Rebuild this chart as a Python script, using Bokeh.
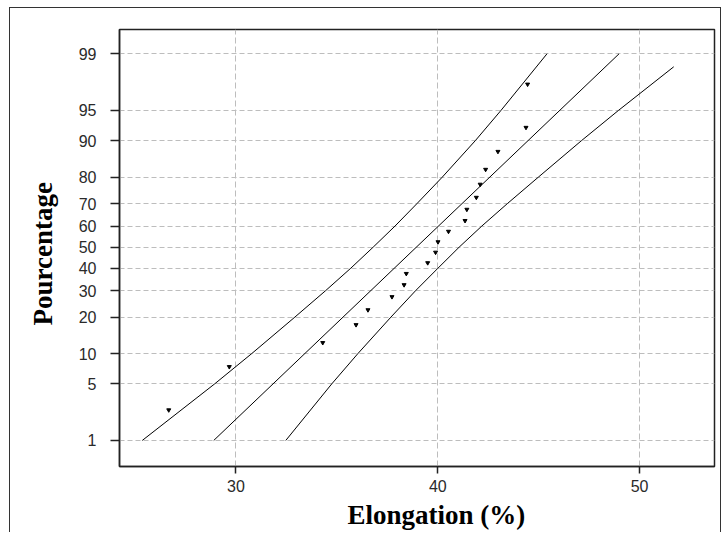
from statistics import NormalDist

from bokeh.plotting import figure
from bokeh.models import FixedTicker, Title
from bokeh.embed import file_html
from bokeh.resources import INLINE

# ---- data ----
elongation = [26.67, 29.67, 34.30, 35.95, 36.54, 37.73, 38.33, 38.44, 39.50, 39.89,
              40.01, 40.53, 41.35, 41.44, 41.91, 42.10, 42.37, 42.98, 44.37, 44.45]
percent = [2.5, 7.5, 12.5, 17.5, 22.5, 27.5, 32.5, 37.5, 42.5, 47.5,
           52.5, 57.5, 62.5, 67.5, 72.5, 77.5, 82.5, 87.5, 92.5, 97.5]

fit_pct = [1, 99]
fit_x = [28.90, 48.98]

lower_band_pct = [1, 5, 10, 20, 30, 40, 50, 60, 70, 80, 90, 95, 99]
lower_band_x = [25.36, 28.95, 30.78, 32.92, 34.44, 35.69, 36.80, 37.88, 38.97, 40.22, 41.86, 43.13, 45.41]

upper_band_pct = [1, 5, 10, 20, 30, 40, 50, 60, 70, 80, 90, 95, 98.5]
upper_band_x = [32.47, 34.75, 36.04, 37.68, 38.90, 40.01, 41.06, 42.18, 43.45, 44.98, 47.12, 48.95, 51.69]

tick_pct = [1, 5, 10, 20, 30, 40, 50, 60, 70, 80, 90, 95, 99]
x_ticks = [30, 40, 50]

x_title = "Elongation (%)"
y_title = "Pourcentage"

# ---- probability (normal) scale transform ----
nd = NormalDist()


def probit(values):
    return [nd.inv_cdf(v / 100.0) for v in values]


tick_z = probit(tick_pct)

p = figure(frame_width=595, frame_height=437,
           min_border_left=109, min_border_top=21, min_border_right=6, min_border_bottom=66,
           x_range=(24.23, 53.71), y_range=(-2.640, 2.619),
           output_backend="svg", toolbar_location=None,
           background_fill_color="white", border_fill_color="white")

# outer picture border (left, top, right) around the whole figure
p.styles = {"border-left": "1px solid #333333", "border-top": "1px solid #333333",
            "border-right": "1px solid #333333", "margin-left": "9px", "margin-top": "7px"}

# grid
p.xgrid.grid_line_color = "#bdbdbd"
p.ygrid.grid_line_color = "#bdbdbd"
p.xgrid.grid_line_dash = "6 3"
p.ygrid.grid_line_dash = "5 3"
p.grid.grid_line_width = 1

# axes
p.xaxis.ticker = FixedTicker(ticks=x_ticks)
p.yaxis.ticker = FixedTicker(ticks=tick_z)
p.yaxis.major_label_overrides = {z: str(pc) for z, pc in zip(tick_z, tick_pct)}
p.axis.minor_tick_line_color = None
p.axis.major_tick_in = 0
p.xaxis.major_tick_out = 7
p.yaxis.major_tick_out = 9
p.axis.major_tick_line_color = "#222222"
p.axis.major_tick_line_width = 1.5
p.axis.axis_line_color = "#222222"
p.axis.axis_line_width = 1.5
p.axis.major_label_text_font = "Liberation Sans"
p.axis.major_label_text_font_size = "16px"
p.axis.major_label_text_color = "#2a2a2a"
p.xaxis.major_label_standoff = 6
p.yaxis.major_label_standoff = 14

p.outline_line_color = "#222222"
p.outline_line_width = 1.5

# axis titles (placed as titles to match the reference's off-centre positions)
p.add_layout(Title(text=x_title, align="left", offset=228, standoff=6,
                   text_font="Liberation Serif", text_font_style="bold",
                   text_font_size="27px", text_color="black"), "below")
p.add_layout(Title(text=y_title, align="left", offset=141, standoff=32,
                   vertical_align="top",
                   text_font="Liberation Serif", text_font_style="bold",
                   text_font_size="27px", text_color="black"), "left")

# lines
p.line(lower_band_x, probit(lower_band_pct), line_color="black", line_width=1)
p.line(fit_x, probit(fit_pct), line_color="black", line_width=1)
p.line(upper_band_x, probit(upper_band_pct), line_color="black", line_width=1)

# points
p.scatter(elongation, probit(percent), marker="inverted_triangle", size=4,
          fill_color="black", line_color="black")

open("out.html", "w").write(file_html(p, INLINE))
